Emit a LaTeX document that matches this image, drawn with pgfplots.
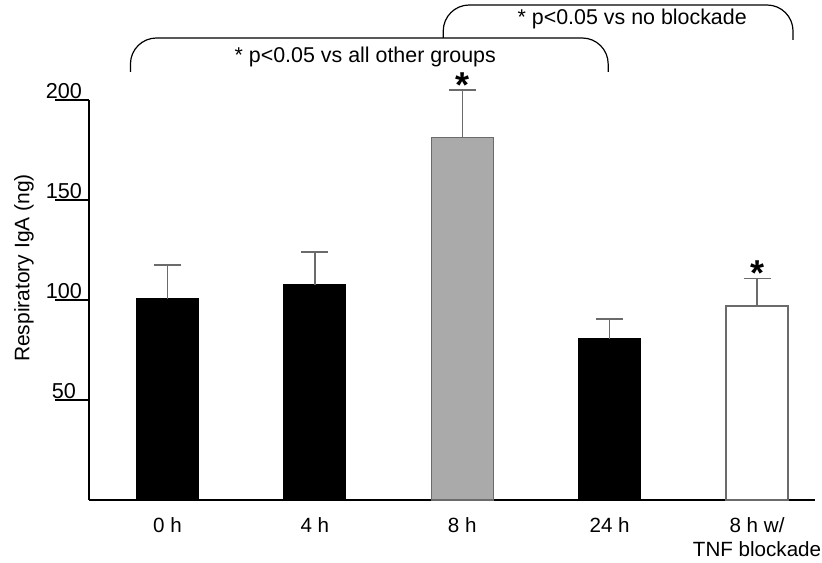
\documentclass[border=0pt]{standalone}
\usepackage{fontspec}
\setmainfont{Liberation Sans}
\usepackage{pgfplots}
\pgfplotsset{compat=1.18}
\definecolor{barblack}{rgb}{0,0,0}
\definecolor{bargray}{rgb}{0.667,0.667,0.667}
\definecolor{errgray}{rgb}{0.42,0.42,0.42}
\begin{document}
\begin{tikzpicture}
\begin{axis}[
  at={(44.5pt,31pt)}, anchor=south west,
  scale only axis, width=363pt, height=200pt,
  xmin=-0.5322, xmax=4.3932, ymin=0, ymax=200,
  axis x line=bottom, axis y line=left,
  axis line style={-, line width=1pt, black},
  clip=false,
  xtick={0,1,2,3,4},
  xticklabels={0 h,4 h,8 h,24 h,{8 h w/\\TNF blockade}},
  x tick style={draw=none},
  xticklabel style={align=center, font=\fontsize{10.3}{12}\selectfont, yshift=11.5pt},
  ytick={50,100,150,200},
  ytick pos=left,
  tick align=outside,
  major tick length=17pt,
  y tick style={line width=1pt, black},
  yticklabel style={anchor=south, inner sep=0.5pt, xshift=4.5pt, font=\fontsize{10.8}{12}\selectfont},
  /pgf/number format/assume math mode=true,
  ylabel={Respiratory IgA (ng)},
  every axis y label/.style={at={(axis description cs:-0.0895,0.58)}, rotate=90, anchor=center, font=\fontsize{10.5}{12}\selectfont},
  ybar, bar width=31pt,
]
\addplot+[bar shift=0pt, fill=barblack, draw=barblack, line width=0.6pt,
  error bars/.cd, y dir=plus, y explicit,
  error bar style={line width=0.7pt, errgray},
  error mark options={rotate=90, mark size=6.75pt, line width=0.7pt, errgray}]
  coordinates {(0,100.5) +- (0,17) (1,107.5) +- (0,16.5) (3,80.5) +- (0,10)};
\addplot+[bar shift=0pt, fill=bargray, draw=errgray, line width=0.6pt,
  error bars/.cd, y dir=plus, y explicit,
  error bar style={line width=0.7pt, errgray},
  error mark options={rotate=90, mark size=6.75pt, line width=0.7pt, errgray}]
  coordinates {(2,181.3) +- (0,23.7)};
\addplot+[bar shift=0pt, fill=white, draw=errgray, line width=0.6pt,
  error bars/.cd, y dir=plus, y explicit,
  error bar style={line width=0.7pt, errgray},
  error mark options={rotate=90, mark size=6.75pt, line width=0.7pt, errgray}]
  coordinates {(4,97) +- (0,13.7)};
% brackets
\draw[line width=0.6pt, rounded corners=13pt] (axis cs:-0.251,214) -- (axis cs:-0.251,231) -- (axis cs:2.99,231) -- (axis cs:2.99,214);
\draw[line width=0.6pt, rounded corners=13pt] (axis cs:1.871,231) -- (axis cs:1.871,247.5) -- (axis cs:4.244,247.5) -- (axis cs:4.244,230);
\node[font=\fontsize{10.7}{12}\selectfont, anchor=center] at (axis cs:1.342,221.5) {* p<0.05 vs all other groups};
\node[font=\fontsize{10.7}{12}\selectfont, anchor=center] at (axis cs:3.153,240.5) {* p<0.05 vs no blockade};
\node[font=\fontsize{18}{18}\bfseries\selectfont, anchor=north, inner sep=0pt] at (axis cs:2,214) {*};
\node[font=\fontsize{18}{18}\bfseries\selectfont, anchor=north, inner sep=0pt] at (axis cs:4,120) {*};
\end{axis}
\pgfresetboundingbox
\path (0,0) rectangle (411pt,281pt);
\end{tikzpicture}
\end{document}
